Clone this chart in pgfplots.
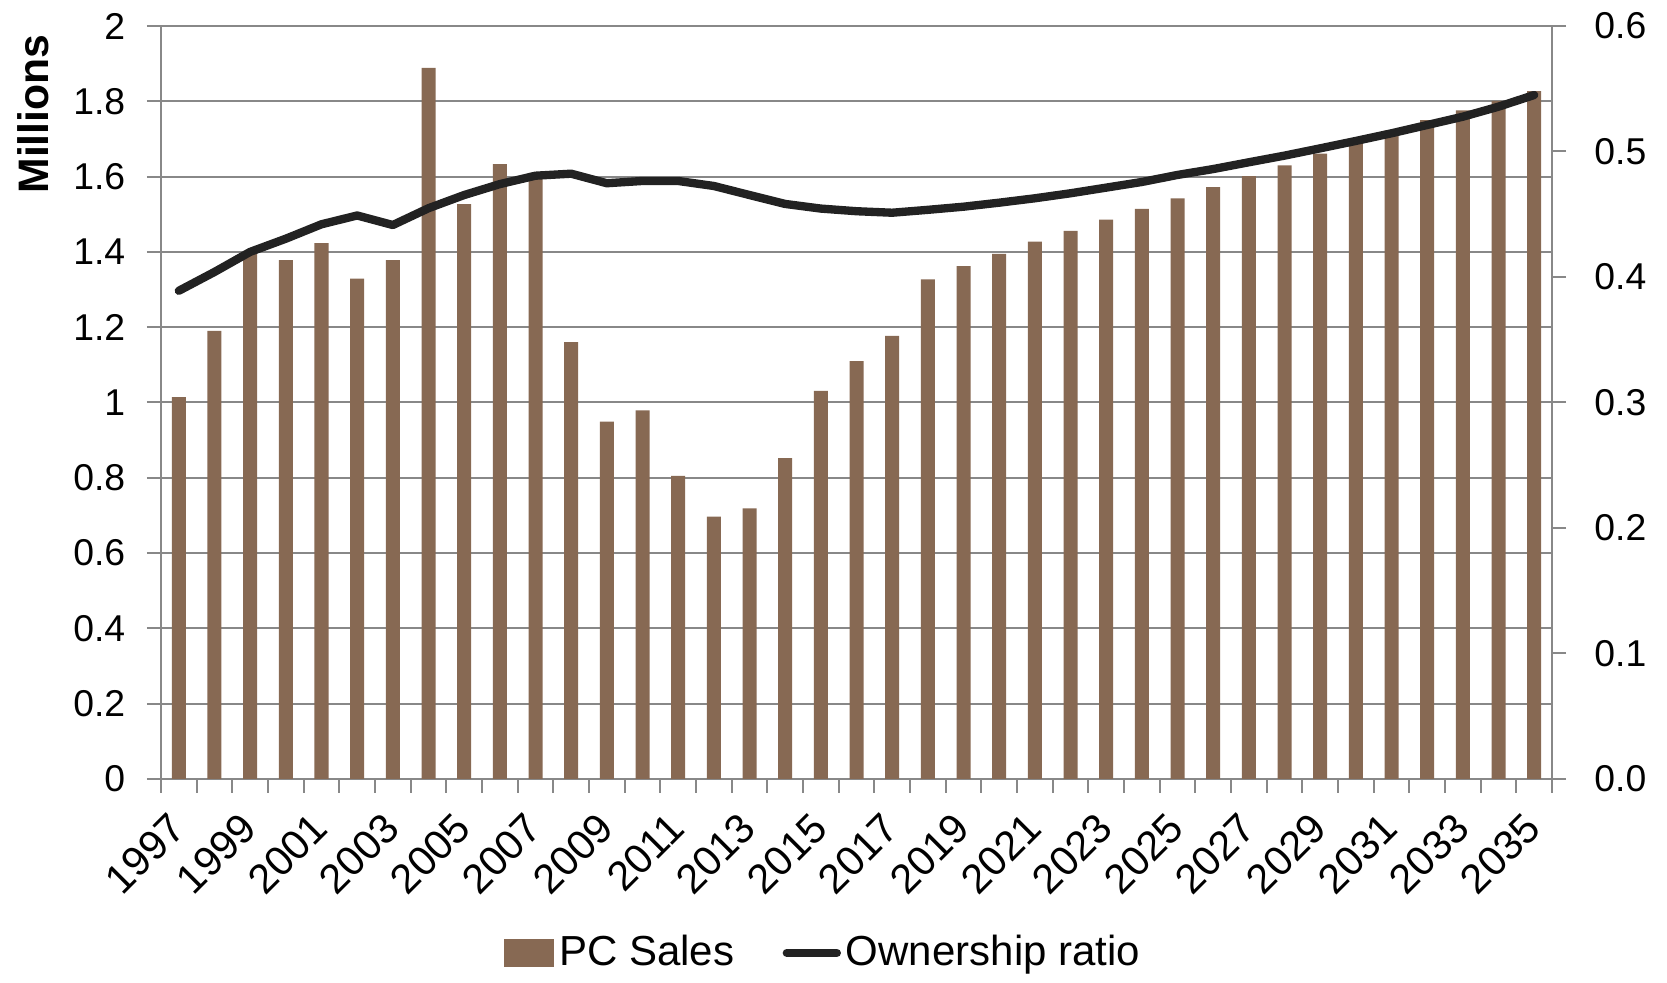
\documentclass[border=0pt]{standalone}
\usepackage{pgfplots}
\usepackage{pgfplotstable}
\pgfplotsset{compat=1.18}
\usepackage{fontspec}
\setmainfont{Liberation Sans}
\definecolor{barbrown}{RGB}{135,105,83}
\definecolor{linegray}{RGB}{136,136,136}
\definecolor{lineblack}{RGB}{34,34,34}
\pgfplotstableread{
idx sales ratio
0 1.014 0.389
1 1.190 0.404
2 1.400 0.420
3 1.378 0.4305
4 1.423 0.442
5 1.329 0.449
6 1.378 0.4414
7 1.889 0.4548
8 1.527 0.4653
9 1.633 0.474
10 1.610 0.4807
11 1.160 0.4823
12 0.949 0.4747
13 0.979 0.4765
14 0.805 0.4765
15 0.697 0.4725
16 0.719 0.4653
17 0.852 0.4582
18 1.031 0.4545
19 1.110 0.4524
20 1.177 0.4512
21 1.327 0.4535
22 1.362 0.456
23 1.395 0.4592
24 1.427 0.4627
25 1.456 0.4667
26 1.486 0.4712
27 1.514 0.4757
28 1.542 0.4813
29 1.572 0.486
30 1.601 0.4914
31 1.630 0.4967
32 1.661 0.5025
33 1.694 0.5084
34 1.723 0.5145
35 1.750 0.5211
36 1.776 0.5277
37 1.801 0.5357
38 1.827 0.545
}\datatable
\begin{document}
\begin{tikzpicture}
\pgfplotsset{
  common/.style={
    width=417.3pt, height=225.9pt, scale only axis,
    xmin=-0.5, xmax=38.5,
    tick align=outside, major tick length=4.2pt,
    axis line style={linegray, line width=0.6pt},
    tick style={linegray, line width=0.6pt},
    ticklabel style={font=\fontsize{11.2}{13}\selectfont, text=black},
  }
}
\begin{axis}[common,
  ymin=0, ymax=2,
  axis x line*=bottom, axis y line*=left,
  ytick={0,0.2,0.4,0.6,0.8,1,1.2,1.4,1.6,1.8,2},
  yticklabels={0,0.2,0.4,0.6,0.8,1,1.2,1.4,1.6,1.8,2},
  yticklabel style={xshift=-3pt},
  ymajorgrids, grid style={linegray, line width=0.6pt},
  xtick={-0.5,0.5,...,38.5}, xticklabels={},
  extra x ticks={0,2,...,38},
  extra x tick labels={1997,1999,2001,2003,2005,2007,2009,2011,2013,2015,2017,2019,2021,2023,2025,2027,2029,2031,2033,2035},
  extra x tick style={tick style={draw=none}, grid=none},
  xticklabel style={font=\fontsize{12.4}{14}\selectfont, inner sep=0pt, xshift=-3.5pt, yshift=-5pt, rotate=45, anchor=north east},
  ylabel={\textbf{Millions}},
  ylabel style={at={(rel axis cs:-0.092,0.883)}, anchor=center, font=\fontsize{12.8}{14}\selectfont},
]
\addplot[ybar, bar width=4.2pt, fill=barbrown, draw=none] table[x=idx, y=sales]{\datatable};
\end{axis}
\begin{axis}[common,
  ymin=0, ymax=0.6,
  axis x line=none, axis y line*=right,
  ytick={0,0.1,0.2,0.3,0.4,0.5,0.6},
  yticklabels={0.0,0.1,0.2,0.3,0.4,0.5,0.6},
  yticklabel style={xshift=5pt},
  legend style={at={(0.477,-0.231)}, anchor=center, draw=none, fill=none,
    legend columns=2, font=\fontsize{12.6}{14}\selectfont,
    nodes={inner sep=1.5pt},
    /tikz/every even column/.append style={column sep=13pt}},
]
\addlegendimage{legend image code/.code={\fill[barbrown] (0pt,-3.9pt) rectangle (14.7pt,3.9pt);}}
\addlegendentry{PC Sales}
\addplot[lineblack, line width=2.5pt, line join=round, line cap=round,
  legend image code/.code={\draw[lineblack, line width=2.5pt, line cap=round] (0pt,0pt) -- (15pt,0pt);}]
  table[x=idx, y=ratio]{\datatable};
\addlegendentry{Ownership ratio}
\end{axis}
\path ([shift={(-48.3pt,-60pt)}]current axis.south west) rectangle ([shift={(34.5pt,7.8pt)}]current axis.north east);
\end{tikzpicture}
\end{document}
